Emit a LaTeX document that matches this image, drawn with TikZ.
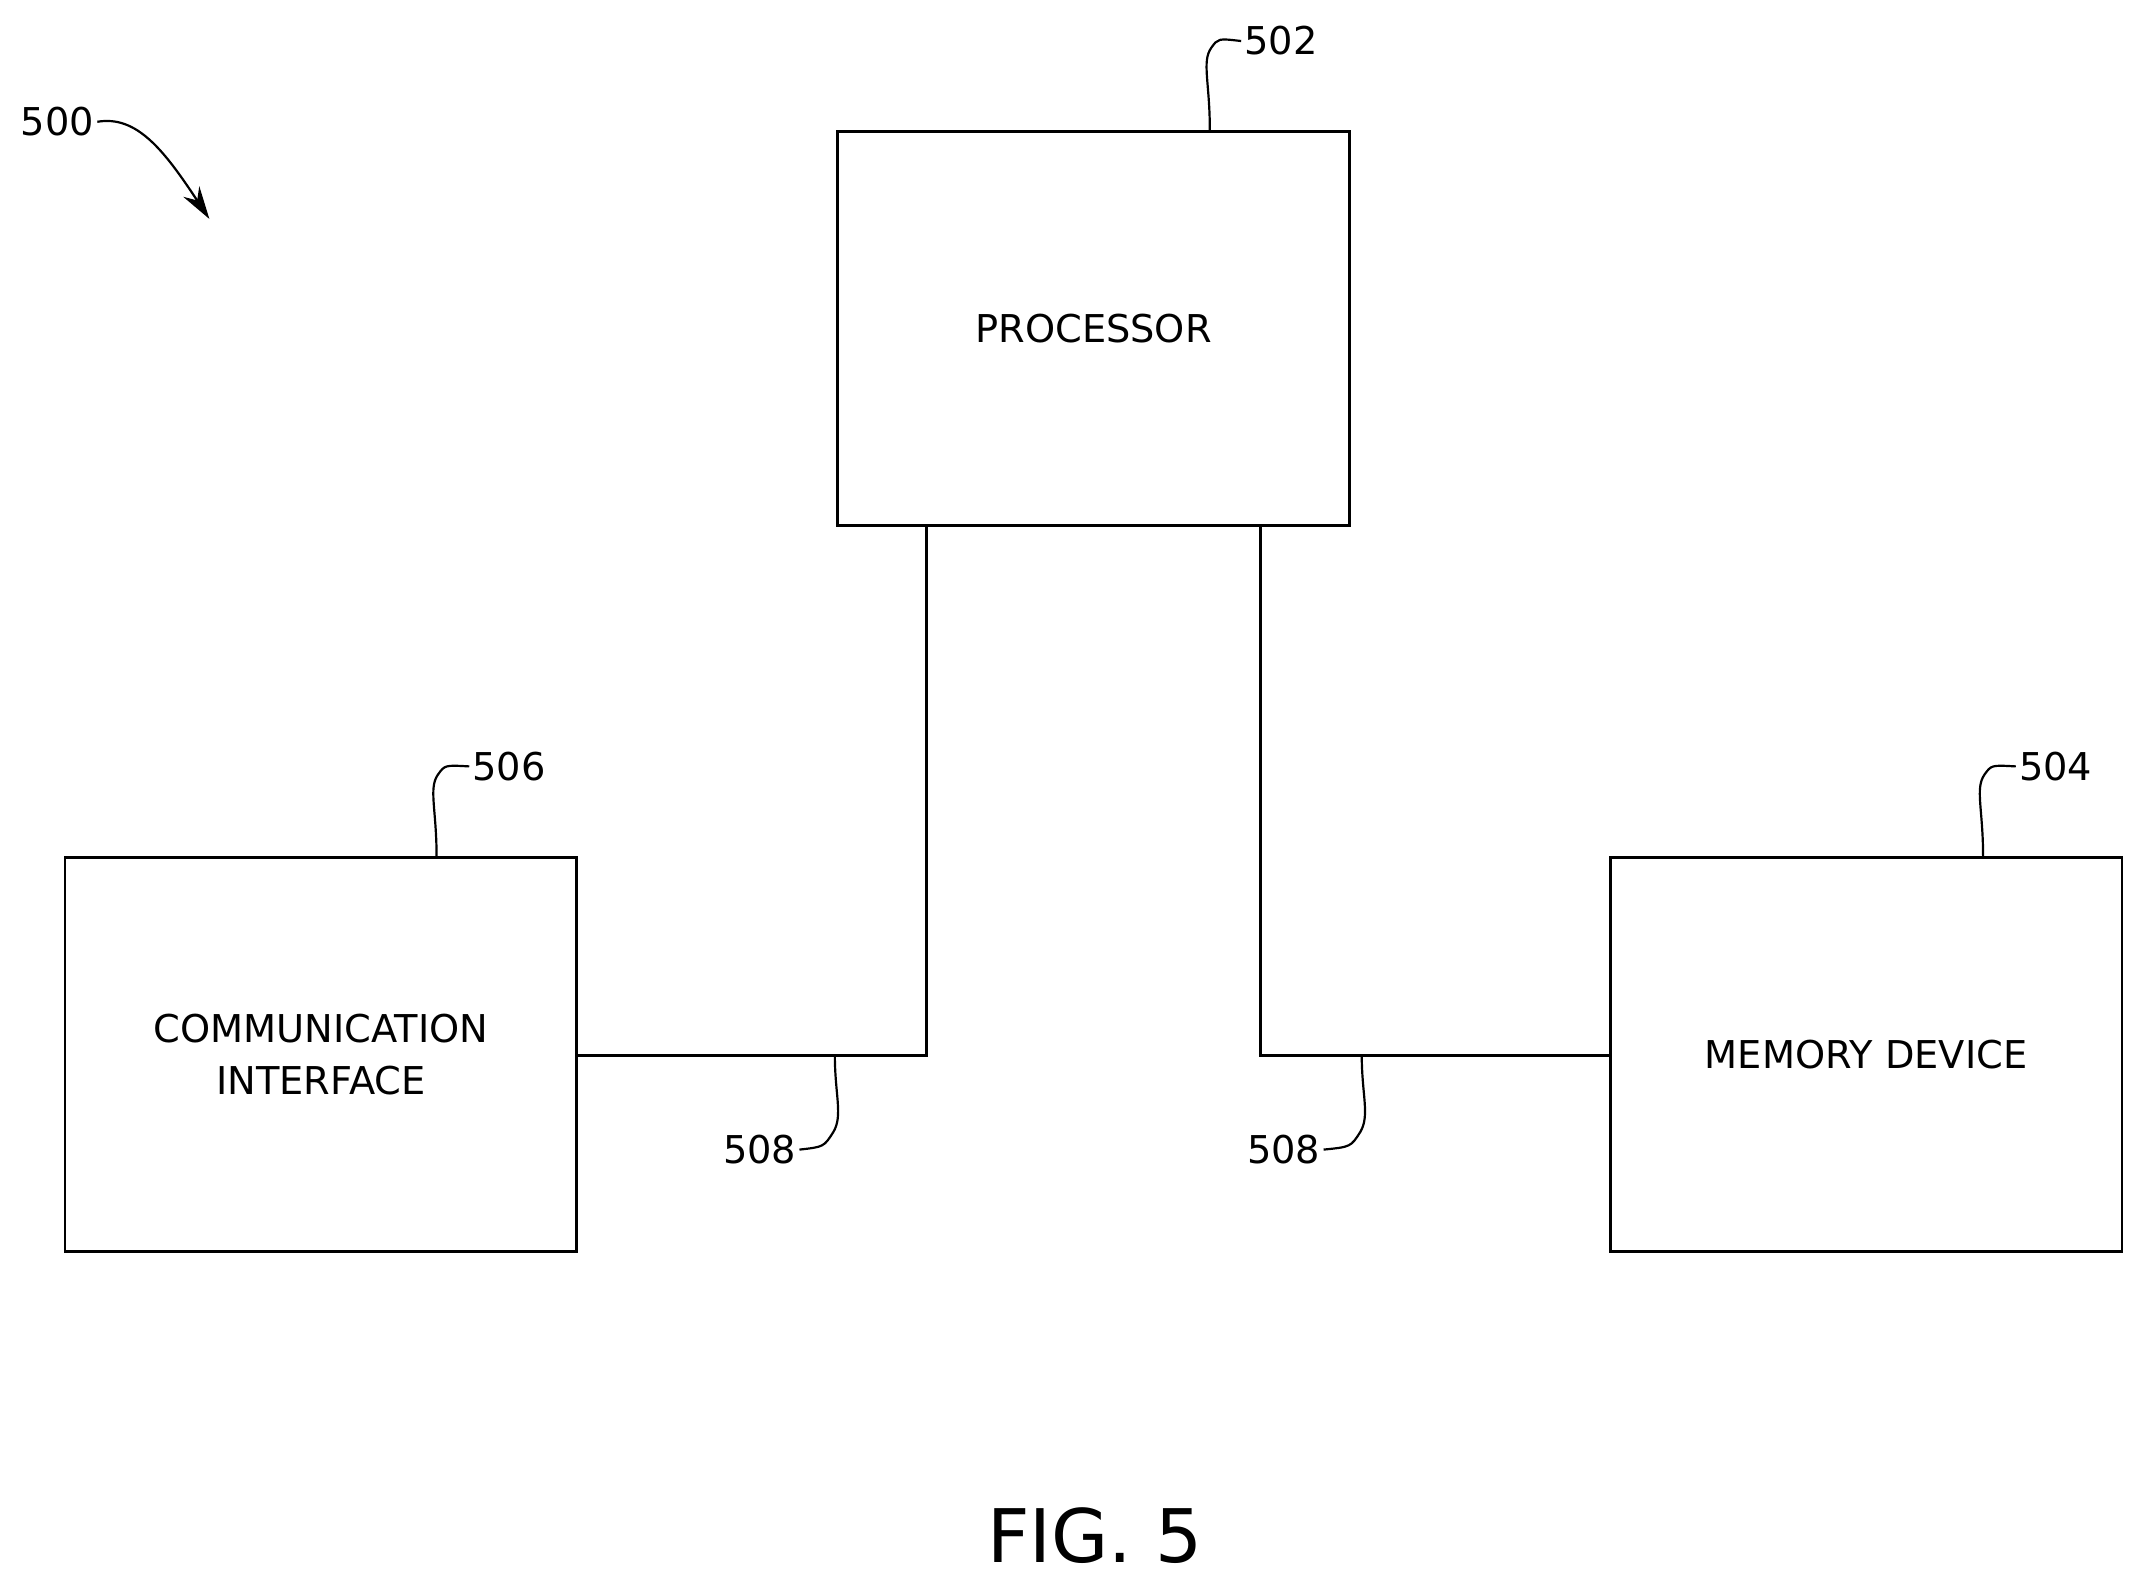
\documentclass[tikz,border=0pt]{standalone}
\usepackage{fontspec}
\setmainfont{DejaVu Sans}
\usetikzlibrary{arrows.meta}
\begin{document}
\begin{tikzpicture}[x=0.5pt,y=-0.5pt,
  box/.style={draw,line width=1pt,rectangle,minimum width=187pt,minimum height=144pt,align=center,font=\fontsize{14}{19}\selectfont},
  lbl/.style={font=\fontsize{14}{17}\selectfont,inner sep=1pt},
  lead/.style={line width=0.8pt},
  wire/.style={line width=1pt}]
\useasboundingbox (0,0) rectangle (1560,1154);
\node[box] (p) at (799,240) {PROCESSOR};
\node[box] (c) at (234.5,770.5) {COMMUNICATION\\INTERFACE};
\node[box] (m) at (1363.5,770.5) {MEMORY DEVICE};
\coordinate (j1) at (677,771);
\coordinate (j2) at (921,771);
\draw[wire] (p.south -| j1) -- (j1) -- (c.east |- j1);
\draw[wire] (p.south -| j2) -- (j2) -- (m.west |- j2);
\node[lbl] (l502) at (936,30) {502};
\node[lbl] (l506) at (372,560) {506};
\node[lbl] (l504) at (1502,560) {504};
\node[lbl] (l508a) at (555,840) {508};
\node[lbl] (l508b) at (938,840) {508};
\node[lbl] (l500) at (42,89) {500};
\coordinate (a1) at (884,95);
\coordinate (a2) at (319,626);
\coordinate (a3) at (1449,626);
\coordinate (b1) at (610,771);
\coordinate (b2) at (995,771);
\draw[lead] (a1) .. controls (884,60) and (878,45) .. (885,35) .. controls (890,28) .. (l502.west);
\draw[lead] (a2) .. controls (319,591) and (313,576) .. (320,566) .. controls (325,559) .. (l506.west);
\draw[lead] (a3) .. controls (1449,591) and (1443,576) .. (1450,566) .. controls (1455,559) .. (l504.west);
\draw[lead] (b1) .. controls (610,800) and (616,815) .. (609,827) .. controls (602,838) .. (l508a.east);
\draw[lead] (b2) .. controls (995,800) and (1001,815) .. (994,827) .. controls (987,838) .. (l508b.east);
\coordinate (t500) at (153,160);
\draw[lead,-{Stealth[length=12pt,width=7pt]}] (l500.east) .. controls (100,84) and (120,110) .. (t500);
\node[font=\fontsize{27}{32}\selectfont] (fig) at (800,1122) {FIG. 5};
\end{tikzpicture}
\end{document}
